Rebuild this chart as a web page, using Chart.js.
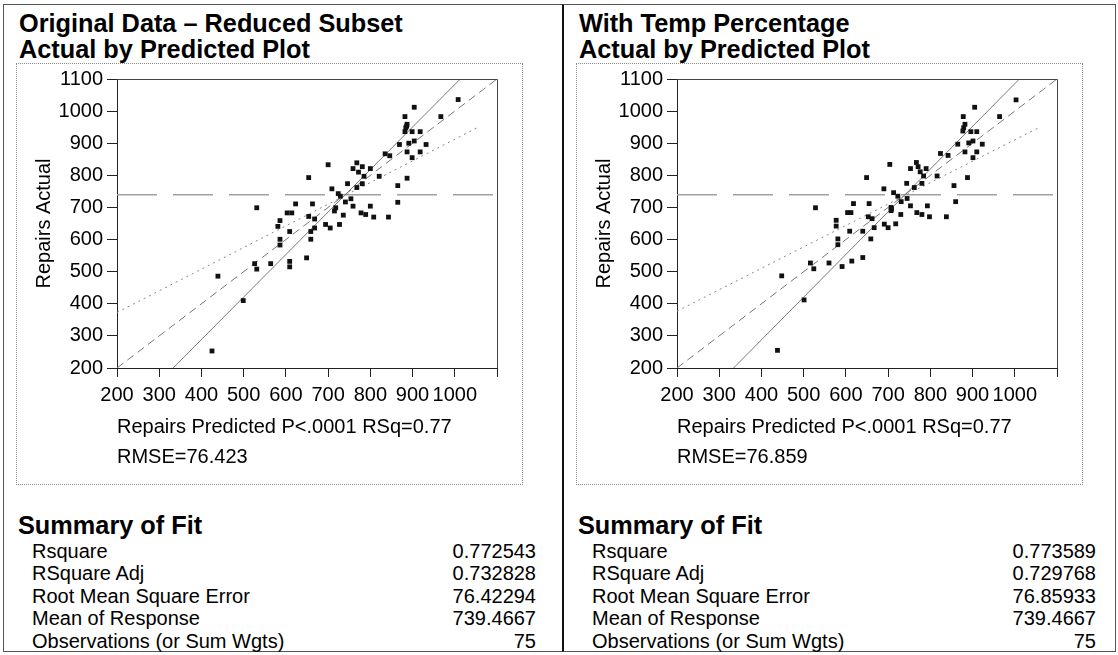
<!DOCTYPE html>
<html>
<head>
<meta charset="utf-8">
<script src="https://cdn.jsdelivr.net/npm/chart.js@4"></script>
<style>
  body { margin: 0; background: #fff; width: 1118px; height: 655px; position: relative; overflow: hidden;
         font-family: "Liberation Sans", Arial, sans-serif; color: #000; }
  .abs { position: absolute; }
  .title { font-weight: bold; font-size: 25.3px; line-height: 26px; white-space: nowrap; }
  .frame { border: 1px dotted #8a8a8a; box-sizing: border-box; }
  .rows { font-size: 20px; line-height: 22.4px; }
  .row { display: flex; justify-content: space-between; white-space: nowrap; }
</style>
</head>
<body>
<div class="abs" style="left:3px;top:4px;width:560px;height:648px;border:1px solid #555;border-right:none;box-sizing:border-box"></div>
<div class="abs" style="left:562px;top:4px;width:554px;height:648px;border:1px solid #555;border-left:2px solid #111;box-sizing:border-box"></div>
<div id="panels"></div>

<script>
// value range for both axes
const axisMin = 200;
const axisMax = 1100;

// Original Data - Reduced Subset
const leftPredicted = [1008, 904, 882, 967, 887, 884, 882, 899, 918, 869, 891, 904, 932, 887, 918, 899, 835, 846, 700, 768,
  759, 781, 800, 772, 785, 821, 654, 887, 746, 781, 768, 709, 865, 724, 729, 754, 741, 865, 531, 623,
  663, 718, 715, 759, 800, 603, 614, 654, 668, 736, 778, 789, 808, 843, 586, 581, 694, 705, 727, 668,
  659, 609, 586, 659, 586, 526, 564, 531, 609, 609, 649, 439, 499, 425, 886];
const leftActual = [1036, 1012, 983, 983, 959, 948, 936, 936, 936, 896, 900, 907, 896, 873, 873, 855, 867, 861, 833, 839,
  821, 827, 821, 810, 797, 797, 793, 791, 774, 774, 762, 758, 768, 743, 735, 727, 717, 716, 699, 711,
  711, 699, 689, 704, 704, 683, 683, 672, 664, 676, 683, 678, 670, 670, 659, 641, 647, 636, 647, 636,
  625, 625, 601, 601, 583, 525, 525, 508, 532, 515, 543, 486, 410, 253, 953];
const leftUpperCurve = [[333, 200], [1013, 1100]];
const leftLowerCurve = [[200, 373], [1053, 948]];

// With Temp Percentage
const rightPredicted = [1003, 905, 878, 964, 882, 879, 877, 896, 910, 865, 891, 901, 923, 882, 910, 901, 824, 842, 704, 767,
  753, 771, 790, 776, 784, 816, 649, 888, 744, 780, 762, 690, 856, 713, 723, 745, 731, 860, 528, 618,
  655, 707, 707, 753, 793, 604, 612, 653, 662, 730, 768, 780, 798, 838, 577, 577, 691, 700, 718, 667,
  640, 609, 581, 659, 581, 516, 560, 524, 614, 591, 640, 448, 501, 438, 708];
const rightActual = [1035, 1012, 983, 983, 959, 948, 938, 936, 936, 897, 901, 907, 897, 873, 873, 855, 868, 862, 834, 840,
  821, 827, 821, 811, 798, 798, 793, 793, 775, 775, 762, 758, 768, 746, 735, 728, 718, 718, 699, 712,
  712, 700, 690, 705, 705, 684, 684, 671, 665, 678, 684, 678, 671, 671, 660, 642, 648, 637, 649, 637,
  626, 626, 602, 602, 584, 527, 527, 509, 533, 516, 544, 487, 412, 255, 695];
const rightUpperCurve = [[334, 200], [1011, 1100]];
const rightLowerCurve = [[200, 377], [1056, 948]];

const meanResponse = 739.4667;

const summaryLabels = ['Rsquare', 'RSquare Adj', 'Root Mean Square Error', 'Mean of Response', 'Observations (or Sum Wgts)'];
const leftSummary = ['0.772543', '0.732828', '76.42294', '739.4667', '75'];
const rightSummary = ['0.773589', '0.729768', '76.85933', '739.4667', '75'];

Chart.defaults.font.family = '"Liberation Sans", Arial, sans-serif';
Chart.defaults.color = '#000';

// top and right edge of the plot box
const boxPlugin = {
  id: 'box',
  afterDraw(chart) {
    const a = chart.chartArea, ctx = chart.ctx;
    ctx.save();
    ctx.strokeStyle = '#444';
    ctx.lineWidth = 1;
    ctx.beginPath();
    ctx.moveTo(a.left, a.top + 0.5);
    ctx.lineTo(a.right + 0.5, a.top + 0.5);
    ctx.lineTo(a.right + 0.5, a.bottom);
    ctx.stroke();
    ctx.restore();
  }
};

function toXY(pairs) { return pairs.map(p => ({x: p[0], y: p[1]})); }

function makePanel(dx, title, pred, actual, upper, lower, rmse, summary) {
  const host = document.getElementById('panels');
  host.insertAdjacentHTML('beforeend', `
    <div class="abs title" style="left:${19 + dx}px;top:10px">${title}<br>Actual by Predicted Plot</div>
    <div class="abs frame" style="left:${16 + dx}px;top:63px;width:507px;height:422px"></div>
    <div class="abs" style="left:${16 + dx}px;top:63px;width:506px;height:421px"><canvas></canvas></div>
    <div class="abs title" style="left:${18 + dx}px;top:512px">Summary of Fit</div>
    <div class="abs rows" style="left:${32 + dx}px;top:540px;width:504px">
      ${summaryLabels.map((l, i) => `<div class="row"><span>${l}</span><span>${summary[i]}</span></div>`).join('')}
    </div>`);
  const canvas = host.lastElementChild.previousElementSibling.previousElementSibling.querySelector('canvas');

  new Chart(canvas, {
    type: 'scatter',
    data: {
      datasets: [
        {
          data: pred.map((v, i) => ({x: v, y: actual[i]})),
          pointStyle: 'rect', pointRadius: 3.4, pointBorderWidth: 0,
          backgroundColor: '#111', order: 0
        },
        {
          type: 'line', data: [{x: axisMin, y: meanResponse}, {x: axisMax, y: meanResponse}],
          borderColor: '#a0a0a0', borderWidth: 1.5, borderDash: [40, 16], pointRadius: 0, order: 4
        },
        {
          type: 'line', data: [{x: axisMin, y: axisMin}, {x: axisMax, y: axisMax}],
          borderColor: '#777', borderWidth: 1, borderDash: [8, 5], pointRadius: 0, order: 3
        },
        {
          type: 'line', data: toXY(upper),
          borderColor: '#7a7a7a', borderWidth: 1, pointRadius: 0, order: 2
        },
        {
          type: 'line', data: toXY(lower),
          borderColor: '#888', borderWidth: 1, borderDash: [2, 4], pointRadius: 0, order: 1
        }
      ]
    },
    options: {
      responsive: true,
      maintainAspectRatio: false,
      animation: false,
      devicePixelRatio: 1,
      layout: {padding: {top: 14, right: 25, left: 0, bottom: 0}},
      plugins: {legend: {display: false}, tooltip: {enabled: false}},
      scales: {
        x: {
          type: 'linear', min: axisMin, max: axisMax,
          afterFit: s => { s.height = 116; },
          ticks: {stepSize: 100, padding: 6, font: {size: 20}, maxRotation: 0, autoSkip: false,
                  callback: v => v === axisMax ? '' : String(v)},
          grid: {drawOnChartArea: false, tickLength: 9, color: '#222'},
          border: {color: '#222'},
          title: {display: true, align: 'start', font: {size: 20, lineHeight: 1.5},
                  padding: {top: 0, bottom: 12},
                  text: ['Repairs Predicted P<.0001 RSq=0.77', 'RMSE=' + rmse]}
        },
        y: {
          type: 'linear', min: axisMin, max: axisMax,
          afterFit: s => { s.width = 101; },
          ticks: {stepSize: 100, padding: 4, font: {size: 20}, callback: v => String(v)},
          grid: {drawOnChartArea: false, tickLength: 10, color: '#222'},
          border: {color: '#222'},
          title: {display: true, text: 'Repairs Actual', font: {size: 20}, padding: {top: 16, bottom: 0}}
        }
      }
    },
    plugins: [boxPlugin]
  });
}

makePanel(0, 'Original Data – Reduced Subset', leftPredicted, leftActual, leftUpperCurve, leftLowerCurve, '76.423', leftSummary);
makePanel(560, 'With Temp Percentage', rightPredicted, rightActual, rightUpperCurve, rightLowerCurve, '76.859', rightSummary);
</script>
</body>
</html>
